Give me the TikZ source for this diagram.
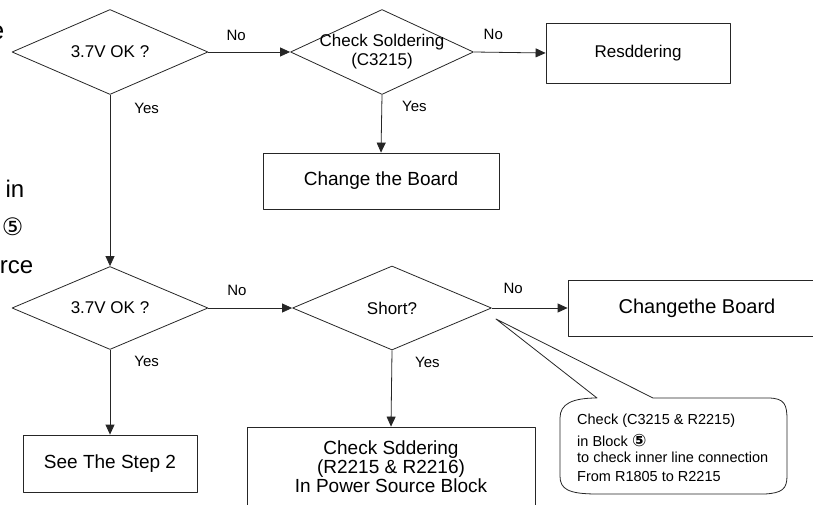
\documentclass[tikz,border=0pt]{standalone}
\usepackage{fontspec}
\setmainfont{Liberation Sans}
\newfontfamily\circfont{DejaVu Sans}
\usetikzlibrary{arrows.meta,shapes.geometric,positioning}

\begin{document}
\begin{tikzpicture}[x=1pt,y=-1pt,>={Triangle[length=10pt,width=9pt]},line join=round,
  dec/.style={diamond,draw=black!85,line width=.8pt,inner sep=0pt},
  dectext/.style={font=\fontsize{17}{19}\selectfont,align=center,inner sep=0pt},
  stepbox/.style={draw=black!85,line width=.8pt,inner sep=0pt,font=\fontsize{19}{19}\selectfont,align=center},
  ans/.style={font=\fontsize{15}{15}\selectfont,inner sep=0pt},
  flow/.style={->,line width=.8pt,draw=black!85},
  frag/.style={font=\fontsize{24}{24}\selectfont,inner sep=0pt,anchor=base east}]
\path[use as bounding box] (0,0) rectangle (813,505);
\clip (0,0) rectangle (813,505);

% cut-off text of the left column
\node[frag,font=\fontsize{26}{26}\selectfont] (fe) at (4.5,40) {e};
\node[frag] (fin) at (24.5,197) {in};
\node[frag,font=\circfont\fontsize{24}{24}\selectfont,anchor=east] (fcirc) at (23.5,227) {⑤};
\node[frag] (frce) at (33.5,273) {rce};

% first check: 3.7V at C3215
\node[dec,minimum width=196pt,minimum height=85pt,label={[dectext]center:3.7V OK ?}] (ok1) at (110,52) {};
\node[dec,minimum width=183pt,minimum height=85pt,label={[dectext]center:{Check Soldering\\(C3215)}}] (sol) at (382,52) {};
\node[stepbox,minimum width=184pt,minimum height=60pt,font=\fontsize{17}{19}\selectfont] (resold) at (638,53) {Resddering};
\node[stepbox,minimum width=236pt,minimum height=56pt] (chg1) at (381,181) {Change the Board};

% second check
\node[dec,minimum width=196pt,minimum height=83pt,label={[dectext]center:3.7V OK ?}] (ok2) at (110,308) {};
\node[dec,minimum width=199pt,minimum height=84pt,label={[dectext]center:Short?}] (short) at (392,308) {};
\node[stepbox,minimum width=174pt,minimum height=57pt] (step2) at (110,463.5) {See The Step 2};
\node[stepbox,minimum width=258pt,minimum height=56pt,font=\fontsize{20}{20}\selectfont] (chg2) at (697,308) {Changethe Board};
\node[stepbox,minimum width=288pt,minimum height=80pt] (sdd) at (391,467) {Check Sddering\\(R2215 \& R2216)\\In Power Source Block};

\draw[flow] (ok1.east) -- (sol.west) node[ans,pos=.34,above=11pt] {No};
\draw[flow] (sol.east) -- (resold.west) node[ans,pos=.27,above=12pt] {No};
\draw[flow] (ok1.south) -- (ok2.north) node[ans,pos=.08,right=24pt] {Yes};
\draw[flow] (sol.south) -- (chg1.north) node[ans,pos=.2,right=20pt] {Yes};
\draw[flow] (ok2.east) -- (short.west) node[ans,pos=.34,above=12pt] {No};
\draw[flow] (short.east) -- (chg2.west) node[ans,pos=.28,above=14pt] {No};
\draw[flow] (ok2.south) -- (step2.north) node[ans,pos=.14,right=24pt] {Yes};
\draw[flow] (short.south) -- (sdd.north) node[ans,pos=.16,right=23pt] {Yes};

% callout
\coordinate (tip) at (496,319);
\draw[line width=.8pt,black!85] (tip) -- (653,398) -- (768,398)
  .. controls (785,398) and (787,405) .. (787,420) -- (787,476)
  .. controls (787,489) and (782,493) .. (765,494) -- (597,494)
  .. controls (568,494) and (560,489) .. (560,476) -- (560,418)
  .. controls (560,404) and (572,398) .. (597,398) -- cycle;
\node[anchor=north west,inner sep=0pt,align=left,font=\fontsize{14.5}{19}\selectfont] (note) at (577,414)
  {Check (C3215 \& R2215)\\[3pt]in Block {\circfont\bfseries\fontsize{17}{17}\selectfont ⑤}\\[-3pt]to check inner line connection\\From R1805 to R2215};
\end{tikzpicture}
\end{document}
